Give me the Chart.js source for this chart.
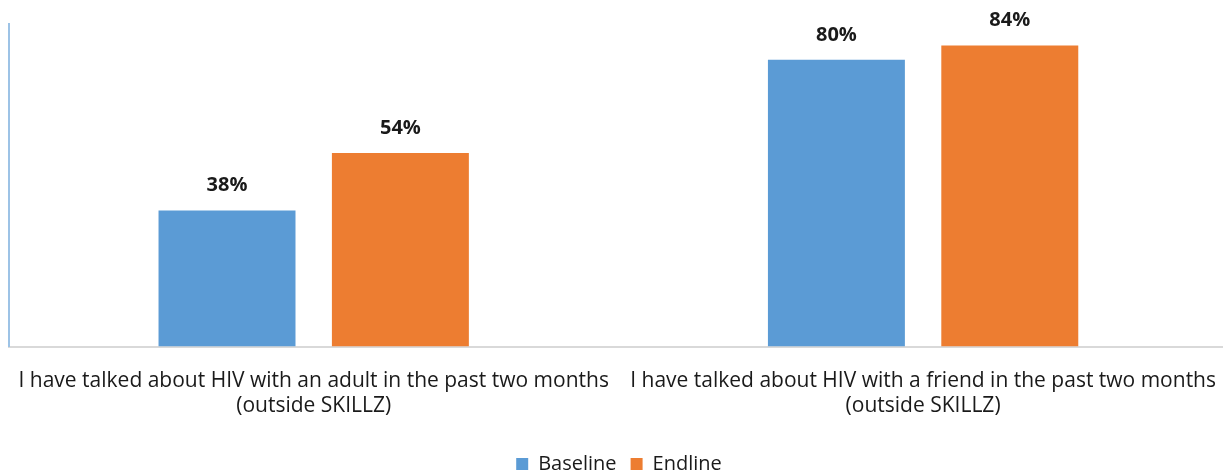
<!DOCTYPE html>
<html>
<head>
<meta charset="utf-8">
<script src="https://cdn.jsdelivr.net/npm/chart.js@4/dist/chart.umd.min.js"></script>
<style>
  html, body { margin: 0; padding: 0; background: #fff; overflow: hidden; }
  #wrap { width: 1230px; height: 474px; }
</style>
</head>
<body>
<div id="wrap"><canvas id="chart"></canvas></div>
<script>
const categories = [
  ["I have talked about HIV with an adult in the past two months", "(outside SKILLZ)"],
  ["I have talked about HIV with a friend in the past two months", "(outside SKILLZ)"]
];
const baseline = [38, 80];
const endline = [54, 84];

const FONT = "'Open Sans', sans-serif";

// writes the value above each bar
const barLabels = {
  id: "barLabels",
  afterDatasetsDraw(chart) {
    const ctx = chart.ctx;
    ctx.save();
    ctx.font = "bold 20px " + FONT;
    ctx.fillStyle = "#1a1a1a";
    ctx.textAlign = "center";
    ctx.textBaseline = "middle";
    chart.data.datasets.forEach((ds, i) => {
      chart.getDatasetMeta(i).data.forEach((bar, j) => {
        ctx.fillText(ds.data[j] + "%", bar.x, bar.y - 25);
      });
    });
    ctx.restore();
  }
};

new Chart(document.getElementById("chart"), {
  type: "bar",
  data: {
    labels: categories,
    datasets: [
      { label: "Baseline", data: baseline, backgroundColor: "#5B9BD5" },
      { label: "Endline", data: endline, backgroundColor: "#ED7D31" }
    ]
  },
  options: {
    responsive: true,
    maintainAspectRatio: false,
    animation: false,
    layout: { padding: { left: 8, right: 0, top: 24, bottom: -10 } },
    datasets: {
      bar: { categoryPercentage: 0.569, barPercentage: 0.79 }
    },
    scales: {
      x: {
        grid: { display: false },
        border: { color: "#d9d9d9", width: 2 },
        ticks: {
          color: "#1a1a1a",
          font: { family: FONT, size: 21, lineHeight: 1.2 },
          padding: 14,
          maxRotation: 0,
          autoSkip: false
        },
        // a little extra room between the labels and the legend
        afterFit(axis) { axis.height += 7; }
      },
      y: {
        min: 0,
        max: 90,
        grid: { display: false },
        border: { color: "#9DC3E6", width: 2 },
        ticks: { display: false },
        afterFit(axis) { axis.width = 1; }
      }
    },
    plugins: {
      legend: {
        position: "bottom",
        labels: {
          color: "#1a1a1a",
          font: { family: FONT, size: 20 },
          boxWidth: 12,
          boxHeight: 12,
          padding: 14
        }
      },
      tooltip: { enabled: false }
    }
  },
  plugins: [barLabels]
});
</script>
</body>
</html>
